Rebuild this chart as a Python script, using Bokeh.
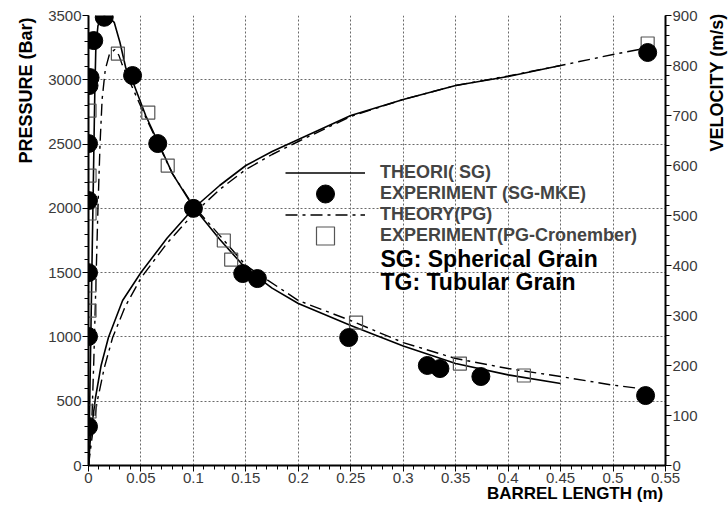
import math
from bokeh.plotting import figure
from bokeh.models import (Range1d, LinearAxis, SingleIntervalTicker, CustomJSTickFormatter,
                          Label, Legend, LegendItem, Title)
from bokeh.embed import file_html
from bokeh.resources import INLINE

# ---------------- data ----------------
# Theory SG pressure (bar) vs barrel length (m)
sg_p_x = [0, 0.001, 0.002, 0.003, 0.004, 0.005, 0.006, 0.007, 0.009, 0.012, 0.015, 0.02, 0.0245,
          0.03, 0.0356, 0.042, 0.0545, 0.066, 0.08, 0.1, 0.125, 0.15, 0.175, 0.2, 0.25, 0.3,
          0.35, 0.4, 0.45]
sg_p_y = [0, 400, 900, 1400, 1900, 2400, 2900, 3250, 3420, 3480, 3495, 3480, 3447,
          3290, 3090, 2990, 2722, 2520, 2270, 2010, 1760, 1532, 1380, 1260, 1089, 930,
          793, 705, 638]

# Theory PG pressure
pg_p_x = [0, 0.003, 0.005, 0.007, 0.009, 0.011, 0.013, 0.016, 0.02, 0.025, 0.029, 0.032,
          0.038, 0.044, 0.055, 0.066, 0.08, 0.1, 0.125, 0.15, 0.2, 0.25, 0.3, 0.35, 0.4,
          0.45, 0.5, 0.535]
pg_p_y = [0, 300, 800, 1400, 2000, 2500, 2850, 3080, 3200, 3235, 3190, 3120,
          3010, 2900, 2700, 2510, 2270, 2020, 1790, 1555, 1283, 1127, 956, 832, 754,
          692, 625, 590]

# Theory SG velocity (m/s)
sg_v_x = [0, 0.002, 0.0067, 0.012, 0.019, 0.0325, 0.05, 0.075, 0.1, 0.125, 0.15, 0.175,
          0.2, 0.25, 0.3, 0.35, 0.4, 0.45]
sg_v_y = [0, 60, 136, 200, 256, 330, 386, 455, 514, 560, 600, 628,
          652, 700, 732, 760, 778, 800]

# Theory PG velocity
pg_v_x = [0, 0.003, 0.008, 0.015, 0.023, 0.035, 0.05, 0.075, 0.1, 0.125, 0.15, 0.175,
          0.2, 0.25, 0.3, 0.35, 0.4, 0.45, 0.5, 0.535]
pg_v_y = [0, 50, 125, 195, 256, 318, 375, 445, 503, 552, 592, 622,
          648, 698, 732, 760, 779, 800, 822, 836]

# Experiment SG-MKE (pressure)
exp_sg_x = [0.0, 0.0, 0.0, 0.0, 0.0, 0.0005, 0.0015, 0.005, 0.015, 0.042, 0.066, 0.1,
            0.147, 0.161, 0.248, 0.323, 0.335, 0.374, 0.531]
exp_sg_y = [303, 1003, 1500, 2061, 2504, 2955, 3017, 3305, 3486, 3033, 2504, 2000,
            1493, 1454, 995, 778, 754, 692, 544]
# Experiment SG-MKE (velocity)
exp_sg_vx = [0.533]
exp_sg_vy = [826]

# Experiment PG-Cronember (pressure)
exp_pg_x = [0.001, 0.001, 0.001, 0.001, 0.001, 0.001, 0.028, 0.057, 0.0755, 0.129, 0.136,
            0.255, 0.354, 0.415]
exp_pg_y = [420, 1205, 1400, 1960, 2255, 2760, 3204, 2745, 2333, 1750, 1602,
            1112, 793, 700]
# Experiment PG-Cronember (velocity)
exp_pg_vx = [0.533]
exp_pg_vy = [844]

legend_labels = ["THEORI( SG)", "EXPERIMENT (SG-MKE)", "THEORY(PG)", "EXPERIMENT(PG-Cronember)"]
notes = ["SG: Spherical Grain", "TG: Tubular Grain"]
x_label = "BARREL LENGTH (m)"
y_label = "PRESSURE (Bar)"
y2_label = "VELOCITY (m/s)"

# ---------------- figure ----------------
FONT = "Liberation Sans"
DASHDOT = "12 5 3 5"

p = figure(frame_width=577, frame_height=450,
           min_border_left=88, min_border_right=63, min_border_top=15, min_border_bottom=41,
           x_range=Range1d(0, 0.55), y_range=Range1d(0, 3500),
           output_backend="svg", toolbar_location=None)
p.extra_y_ranges = {"vel": Range1d(0, 900)}
p.outline_line_color = None
p.background_fill_color = "white"
p.border_fill_color = "white"

p.xaxis.ticker = SingleIntervalTicker(interval=0.05, num_minor_ticks=5)
p.xaxis.formatter = CustomJSTickFormatter(code="return parseFloat(tick.toFixed(3)).toString();")
p.yaxis.ticker = SingleIntervalTicker(interval=500, num_minor_ticks=5)

vel_axis = LinearAxis(y_range_name="vel", ticker=SingleIntervalTicker(interval=100, num_minor_ticks=5))
p.add_layout(vel_axis, "right")

xax = p.xaxis[0]
yax = p.yaxis[0]
for ax in [xax, yax, vel_axis]:
    ax.axis_line_width = 2
    ax.axis_line_color = "black"
    ax.major_tick_line_color = "black"
    ax.minor_tick_line_color = "black"
    ax.major_tick_in = 0
    ax.major_tick_out = 6
    ax.minor_tick_in = 0
    ax.minor_tick_out = 4
    ax.major_label_text_font = FONT
    ax.major_label_text_font_size = "15px"
    ax.major_label_text_color = "#3a3a3a"
    ax.major_label_standoff = 1

# axis titles
p.add_layout(Title(text=y_label, align="right", offset=2, standoff=20,
                   text_font=FONT, text_font_style="bold", text_font_size="18px",
                   text_color="black"), "left")
p.add_layout(Label(x=575, y=11, x_units="screen", y_units="screen", text=x_label,
                   text_font=FONT, text_font_style="bold", text_font_size="17px",
                   text_baseline="middle", text_align="right", text_color="black"), "below")
p.add_layout(Label(x=16, y=452, x_units="screen", y_units="screen", text=y2_label,
                   angle=math.pi / 2, text_font=FONT, text_font_style="bold",
                   text_font_size="18px", text_baseline="middle", text_align="right",
                   text_color="black"), "right")

for g in [p.xgrid[0], p.ygrid[0]]:
    g.grid_line_color = "#6a6a6a"
    g.grid_line_dash = "2 2"
    g.grid_line_width = 1

# lines
r_sg = p.line(sg_p_x, sg_p_y, line_color="black", line_width=1.6)
r_pg = p.line(pg_p_x, pg_p_y, line_color="black", line_width=1.4, line_dash=DASHDOT)
p.line(sg_v_x, sg_v_y, line_color="black", line_width=1.6, y_range_name="vel")
p.line(pg_v_x, pg_v_y, line_color="black", line_width=1.4, line_dash=DASHDOT, y_range_name="vel")

# markers
r_epg = p.scatter(exp_pg_x, exp_pg_y, marker="square", size=13, fill_color=None,
                  line_color="#555555", line_width=1.2)
p.scatter(exp_pg_vx, exp_pg_vy, marker="square", size=13, fill_color=None,
          line_color="#555555", line_width=1.2, y_range_name="vel")
r_esg = p.scatter(exp_sg_x, exp_sg_y, marker="circle", size=18, color="black")
p.scatter(exp_sg_vx, exp_sg_vy, marker="circle", size=18, color="black", y_range_name="vel")

# one legend per row so the marker samples keep their size
rows = [(legend_labels[0], r_sg, 270), (legend_labels[1], r_esg, 249),
        (legend_labels[2], r_pg, 228), (legend_labels[3], r_epg, 207)]
for lab, rend, ly in rows:
    lg = Legend(items=[LegendItem(label=lab, renderers=[rend])],
                location=(197, ly), glyph_width=80, glyph_height=45, label_height=45,
                spacing=0, padding=0, margin=0, label_standoff=15,
                border_line_color=None, background_fill_alpha=0,
                label_text_font=FONT, label_text_font_style="bold",
                label_text_font_size="18px", label_text_baseline="middle")
    p.add_layout(lg)

for txt, yy in zip(notes, [207, 184]):
    p.add_layout(Label(x=292, y=yy, x_units="screen", y_units="screen", text=txt,
                       text_font=FONT, text_font_style="bold", text_font_size="23px",
                       text_baseline="middle", text_align="left", text_color="black"))

open("out.html", "w").write(file_html(p, INLINE))
